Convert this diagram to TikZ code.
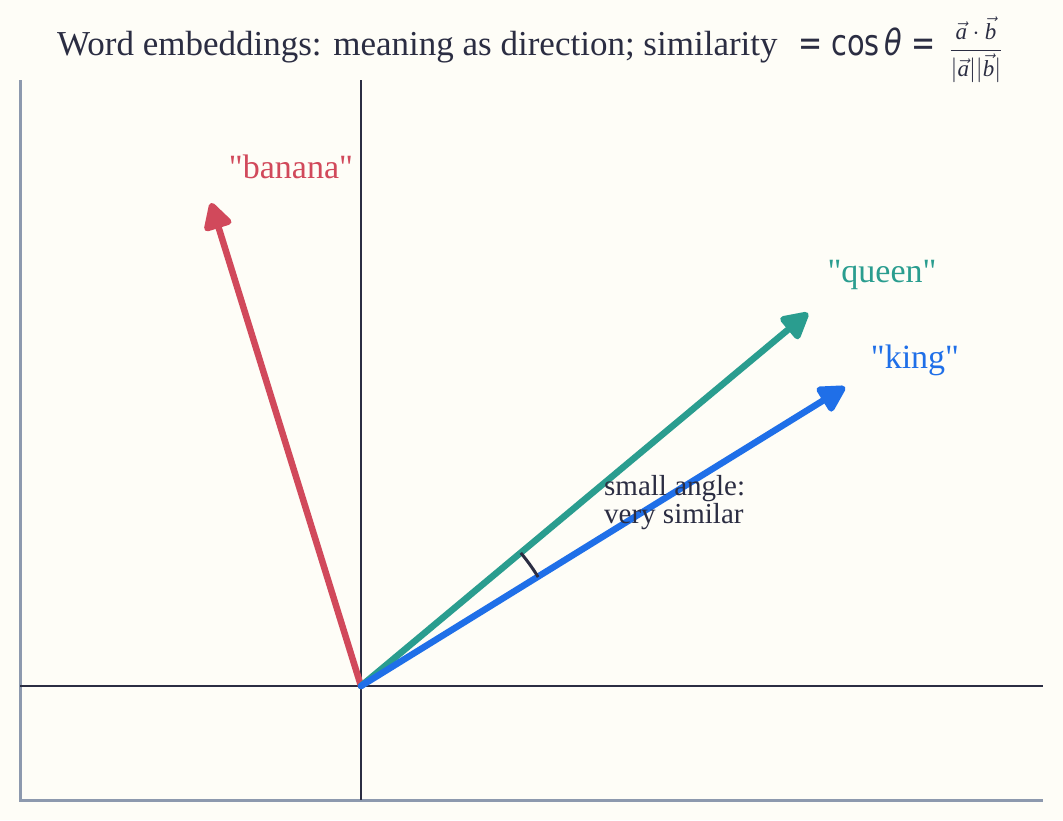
\documentclass[tikz,border=0pt]{standalone}
\usepackage{amsmath}
\usepackage{graphicx}
\usepackage{fontspec}
\setmainfont{Liberation Serif}
\newfontfamily\pal{Liberation Serif}
\newfontfamily\dejavu{DejaVu Sans}
\usetikzlibrary{arrows.meta,calc}
\definecolor{bgc}{HTML}{FEFDF7}
\definecolor{ink}{HTML}{2B2D42}
\definecolor{framec}{HTML}{8D99AE}
\definecolor{redv}{HTML}{D1495B}
\definecolor{tealv}{HTML}{2A9D8F}
\definecolor{bluev}{HTML}{1F6FE8}
\tikzset{
  vec/.style={line width=6.5pt, line cap=round, -{Triangle[length=30pt,width=31pt,round]}},
  axisline/.style={ink, line width=2.7pt},
  frameline/.style={framec, line width=3pt},
  wordlab/.style={font=\pal\fontsize{34}{38}\selectfont, inner sep=0pt, anchor=base},
  note/.style={font=\pal\fontsize{29}{28}\selectfont, text=ink, align=left, inner sep=0pt},
  titletext/.style={inner sep=0pt, text=ink},
}
\begin{document}
\begin{tikzpicture}[x=1pt,y=-1pt]
\fill[bgc] (0,0) rectangle (1063,820);
\useasboundingbox (0,0) rectangle (1063,820);
% frame
\coordinate (ftop) at (20,80);
\coordinate (fcorner) at (20,800);
\coordinate (fright) at (1043,800);
\draw[frameline] (ftop) -- (fcorner) -- (fright);
% axes
\coordinate (O) at (361,686);
\coordinate (xl) at (20,686);
\coordinate (xr) at (1043,686);
\coordinate (yt) at (361,80);
\coordinate (yb) at (361,800);
\draw[axisline] (xl) -- (xr);
\draw[axisline] (yt) -- (yb);
% vectors
\coordinate (banana) at (211,203);
\coordinate (queen) at (808,313);
\coordinate (king) at (845,387);
\draw[vec, redv] (O) -- (banana);
\draw[vec, tealv] (O) -- (queen);
\draw[vec, bluev] (O) -- (king);
% angle arc
\draw[ink, line width=3pt] ($(O)+(-31.6:208)$) arc[start angle=-31.6, end angle=-39.8, radius=208];
% labels
\node[wordlab, text=redv] (lbanana) at (291,178) {"banana"};
\node[wordlab, text=tealv] (lqueen) at (882,282) {"queen"};
\node[wordlab, text=bluev] (lking) at (915,368) {"king"};
\node[note, anchor=base west] (lnote) at (604,523) {small angle:\\very similar};
% title
\node[titletext, anchor=base west, font=\pal\fontsize{35}{38}\selectfont] (title) at (57,55)
  {Word embeddings: meaning as direction; similarity};
\node[titletext, anchor=base west, font=\dejavu\fontsize{36}{40}\selectfont] (tmath) at (798,55)
  {\scalebox{0.8}[1]{= cos\,\textit{θ} =}};
\node[titletext, anchor=center, font=\fontsize{23}{26}\selectfont] (tfrac) at (976,50)
  {$\dfrac{\vec{\text{\pal\itshape a}}\cdot\vec{\text{\pal\itshape b}}}{|\vec{\text{\pal\itshape a}}||\vec{\text{\pal\itshape b}}|}$};
\end{tikzpicture}
\end{document}
